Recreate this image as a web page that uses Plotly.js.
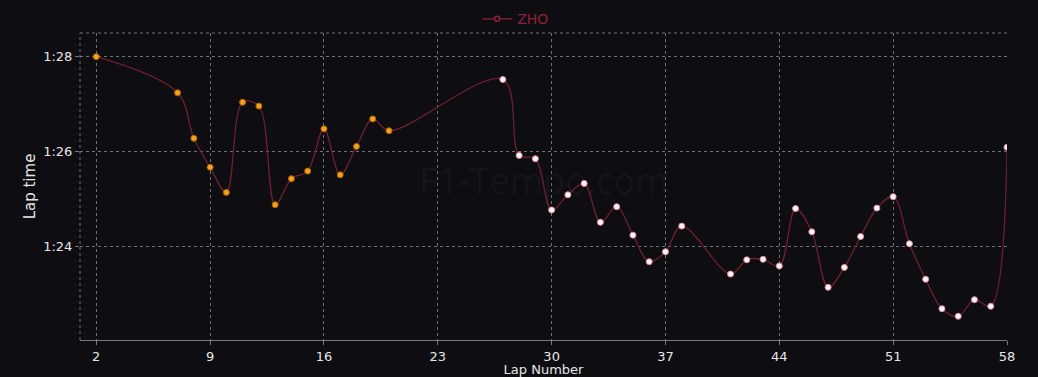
<!DOCTYPE html>
<html>
<head>
<meta charset="utf-8">
<script src="https://cdn.plot.ly/plotly-3.0.1.min.js"></script>
<style>html,body{margin:0;padding:0;background:#0e0e12;}#chart{width:1038px;height:377px;}</style>
</head>
<body>
<div id="chart"></div>
<script>
// Lap numbers and lap times (seconds)
const laps = [2,7,8,9,10,11,12,13,14,15,16,17,18,19,20,27,28,29,30,31,32,33,34,35,36,37,38,41,42,43,44,45,46,47,48,49,50,51,52,53,54,55,56,57,58];
const lapTimes = [88.00,87.24,86.28,85.67,85.14,87.04,86.96,84.88,85.43,85.59,86.48,85.51,86.11,86.69,86.44,87.52,85.92,85.85,84.77,85.09,85.33,84.51,84.84,84.24,83.68,83.89,84.43,83.42,83.72,83.73,83.59,84.80,84.31,83.14,83.56,84.21,84.81,85.05,84.06,83.31,82.69,82.53,82.88,82.74,86.09];
const compounds = ["M","M","M","M","M","M","M","M","M","M","M","M","M","M","M","H","H","H","H","H","H","H","H","H","H","H","H","H","H","H","H","H","H","H","H","H","H","H","H","H","H","H","H","H","H"];
const driver = "ZHO";
const yTickVals = [84,86,88];
const yTickText = ["1:24","1:26","1:28"];
const xTickVals = [2,9,16,23,30,37,44,51,58];

const fillColors = compounds.map(c => c === "M" ? "#f5a31a" : "#fff4f6");
const lineColors = compounds.map(c => c === "M" ? "#a8600a" : "#d98c9c");

const minT = Math.min(...lapTimes), maxT = Math.max(...lapTimes);

const traces = [
  {x: laps, y: lapTimes, mode: "lines", type: "scatter", showlegend: false,
   line: {color: "#6e1f2c", width: 1.3, shape: "spline", smoothing: 1}, hoverinfo: "skip"},
  {x: laps, y: lapTimes, mode: "markers", type: "scatter", showlegend: false,
   marker: {size: 6, color: fillColors, line: {color: lineColors, width: 1}}},
  {x: [null], y: [null], mode: "lines+markers", type: "scatter", name: driver,
   line: {color: "#8c2236", width: 1.3}, marker: {size: 5, color: "#0e0e12", line: {color: "#8c2236", width: 1.5}}}
];

const gridC = "#707076";
const layout = {
  width: 1038, height: 377,
  paper_bgcolor: "#0e0e12", plot_bgcolor: "#0e0e12",
  margin: {l: 80, r: 31, t: 33, b: 37, autoexpand: false},
  font: {family: "DejaVu Sans, Verdana, sans-serif", color: "#e6e6e6", size: 12},
  showlegend: true,
  legend: {orientation: "h", x: 0.47, xanchor: "center", y: 1.045, yanchor: "middle",
           font: {color: "#8c2236", size: 14}, bgcolor: "rgba(0,0,0,0)", itemwidth: 30},
  xaxis: {range: [1, 58], tickvals: xTickVals, showgrid: true, gridcolor: gridC, griddash: "3px,3px", gridwidth: 1,
          zeroline: false, showline: true, linecolor: "#777", linewidth: 1, ticks: "outside", ticklen: 4, tickcolor: "#777",
          tickfont: {size: 13, color: "#e6e6e6"},
          title: {text: "Lap Number", font: {size: 13, color: "#e6e6e6"}, standoff: 0}},
  yaxis: {range: [minT - 0.5, maxT + 0.5], tickvals: yTickVals, ticktext: yTickText, showgrid: true, gridcolor: gridC,
          griddash: "3px,3px", zeroline: false, showline: false, ticks: "outside", ticklen: 4, tickcolor: "#777",
          tickfont: {size: 13, color: "#e6e6e6"},
          title: {text: "Lap time", font: {size: 15, color: "#e6e6e6"}, standoff: 3}},
  shapes: [
    {type: "line", xref: "paper", yref: "paper", x0: 0, x1: 0, y0: 0, y1: 1, line: {color: gridC, width: 1, dash: "3px,3px"}},
    {type: "line", xref: "paper", yref: "paper", x0: 0, x1: 1, y0: 1, y1: 1, line: {color: gridC, width: 1, dash: "3px,3px"}}
  ],
  annotations: [
    {text: "F1-Tempo.com", xref: "paper", yref: "paper", x: 0.5, y: 0.52, showarrow: false,
     font: {size: 36, color: "rgba(255,255,255,0.035)", family: "Open Sans, sans-serif"}}
  ]
};

Plotly.newPlot("chart", traces, layout, {displayModeBar: false, staticPlot: true});
</script>
</body>
</html>
